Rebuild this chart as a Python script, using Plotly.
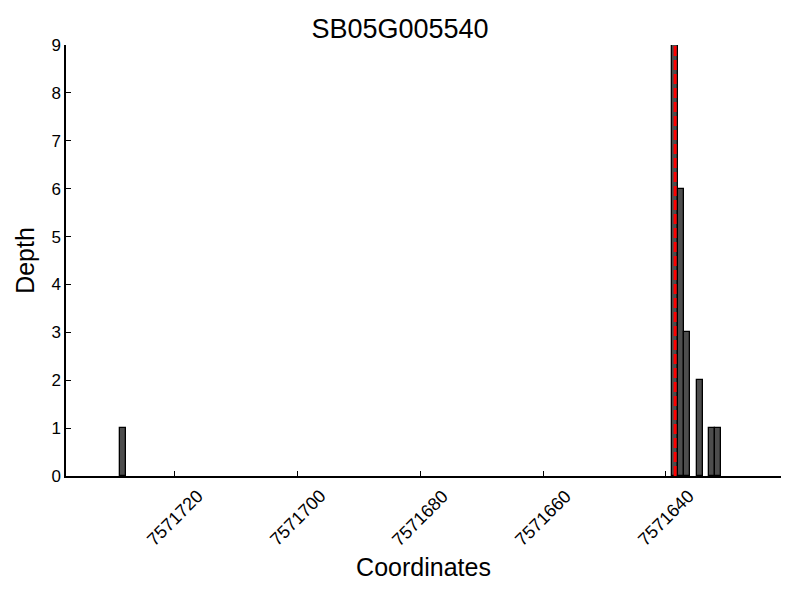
import plotly.graph_objects as go

title = "SB05G005540"
coords = [7571728, 7571638, 7571637, 7571636, 7571634, 7571632, 7571631]
depths = [1, 9, 6, 3, 2, 1, 1]
site = 7571638.5
xticks = [7571720, 7571700, 7571680, 7571660, 7571640]
yticks = list(range(0, 10))

fig = go.Figure()
fig.add_trace(go.Bar(
    x=coords, y=depths, width=1, offset=0,
    marker=dict(color="#4d4d4d", line=dict(color="black", width=1.3)),
    showlegend=False,
))
fig.add_trace(go.Scatter(
    x=[site, site], y=[0, max(depths)], mode="lines",
    line=dict(color="red", width=3, dash="10px,4px"), showlegend=False,
))

font = "Liberation Sans, Arial, sans-serif"
fig.update_layout(
    width=800, height=600,
    margin=dict(l=66, r=19, t=45, b=124, autoexpand=False),
    plot_bgcolor="white", paper_bgcolor="white",
    font=dict(family=font, color="black"),
    title=dict(text=title, x=0.5, xanchor="center", y=1 - 29 / 600, yanchor="middle",
               font=dict(size=27, family=font)),
    bargap=0,
)
for v in xticks:
    fig.add_annotation(
        x=v, xref="x", y=0, yref="paper", yshift=-42,
        text=str(v), showarrow=False, textangle=-45,
        xanchor="center", yanchor="middle",
        font=dict(size=18, family=font, color="black"),
    )
fig.update_xaxes(
    range=[7571737.75, 7571621.25],
    tickvals=xticks, showticklabels=False,
    ticks="inside", ticklen=5, tickcolor="black",
    showline=True, linecolor="black", linewidth=1.5,
    showgrid=False, zeroline=False, automargin=False,
    title=dict(text="Coordinates", font=dict(size=25), standoff=82),
)
fig.update_yaxes(
    range=[0, 9],
    tickvals=yticks,
    tickfont=dict(size=17),
    ticks="inside", ticklen=5, tickcolor="black",
    showline=True, linecolor="black", linewidth=1.5,
    showgrid=False, zeroline=False, automargin=False,
    title=dict(text="Depth", font=dict(size=25), standoff=10),
)
fig.write_html("out.html", config={"displayModeBar": False},
               post_script="document.body.style.margin='0';document.body.style.padding='0';")
